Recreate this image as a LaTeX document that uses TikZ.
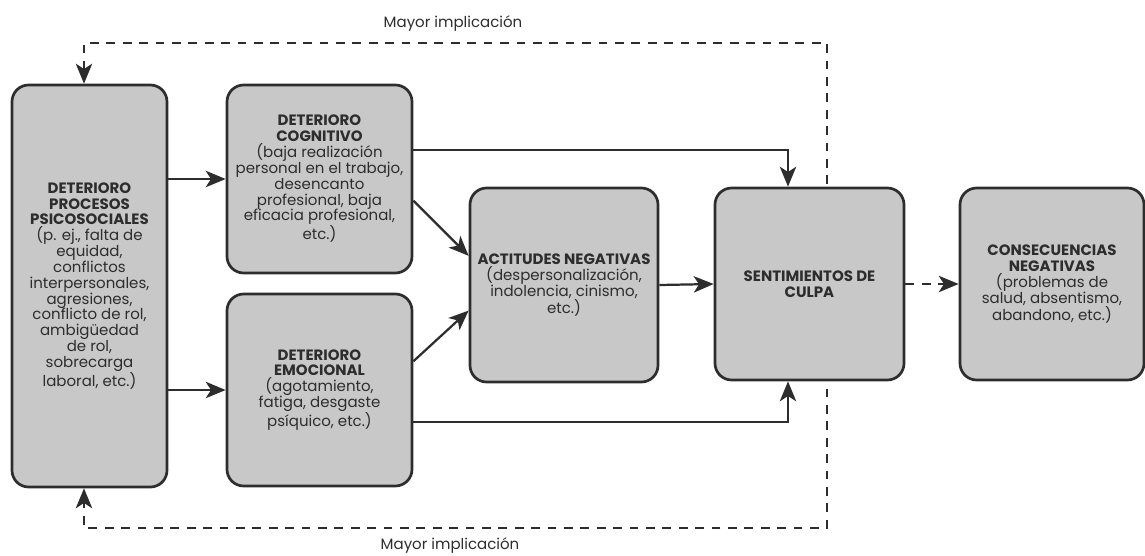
\documentclass[tikz,border=0pt]{standalone}
\usepackage{fontspec}
\setmainfont{Poppins}
\usetikzlibrary{arrows.meta,backgrounds}
\definecolor{cajagris}{RGB}{200,200,200}
\definecolor{tinta}{RGB}{45,45,45}

\begin{document}
\begin{tikzpicture}[x=0.03cm,y=-0.03cm,
    >={Stealth[length=17pt,width=14pt,inset=4.5pt]},
    every node/.style={text=tinta,font=\fontsize{12.8}{13.5}\selectfont},
    caja/.style={draw=tinta,fill=cajagris,line width=2.3pt,rounded corners=0.5cm,align=center,inner sep=2pt},
    flecha/.style={draw=tinta,line width=1.9pt,->},
    discont/.style={draw=tinta,line width=1.9pt,dash pattern=on 7.5pt off 6.5pt}]
  \useasboundingbox (0,0) rectangle (1145,555);

  % cajas
  \node at (89.5,286) [caja,minimum width=4.65cm,minimum height=12.06cm] (psico)
    {\textbf{DETERIORO}\\ \textbf{PROCESOS}\\ \textbf{PSICOSOCIALES}\\ (p. ej., falta de\\ equidad,\\ conflictos\\ interpersonales,\\ agresiones,\\ conflicto de rol,\\ ambigüedad\\ de rol,\\ sobrecarga\\ laboral, etc.)};
  \node at (319.5,179) [caja,minimum width=5.55cm,minimum height=5.64cm] (cognit)
    {\textbf{DETERIORO}\\ \textbf{COGNITIVO}\\ (baja realización\\ personal en el trabajo,\\ desencanto\\ profesional, baja\\ eficacia profesional,\\ etc.)};
  \node at (319.5,390) [caja,minimum width=5.55cm,minimum height=5.76cm] (emocion)
    {\textbf{DETERIORO}\\ \textbf{EMOCIONAL}\\ (agotamiento,\\ fatiga, desgaste\\ psíquico, etc.)};
  \node at (564,285) [caja,minimum width=5.64cm,minimum height=5.82cm] (actitud)
    {\textbf{ACTITUDES NEGATIVAS}\\ (despersonalización,\\ indolencia, cinismo,\\ etc.)};
  \node at (809.5,284) [caja,minimum width=5.67cm,minimum height=5.76cm] (culpa)
    {\textbf{SENTIMIENTOS DE}\\ \textbf{CULPA}};
  \node at (1052,284) [caja,minimum width=5.52cm,minimum height=5.76cm] (consec)
    {\textbf{CONSECUENCIAS}\\ \textbf{NEGATIVAS}\\ (problemas de\\ salud, absentismo,\\ abandono, etc.)};

  \node at (453,24) (implsup) {Mayor implicación};
  \node at (450,546) (implinf) {Mayor implicación};

  % lazo de retroalimentacion
  \coordinate (esqsi) at (84,43);
  \coordinate (esqsd) at (827,43);
  \coordinate (esqid) at (827,528);
  \coordinate (esqii) at (84,528);
  \begin{scope}[on background layer]
    \draw[discont,<->] (esqsi |- psico.north) -- (esqsi) -- (esqsd) -- (esqid) -- (esqii) -- (esqii |- psico.south);
  \end{scope}

  % flechas
  \coordinate (baja) at (788,150);
  \coordinate (sube) at (788,422);
  \draw[flecha] (psico.east |- cognit) -- (cognit.west);
  \draw[flecha] (psico.east |- emocion) -- (emocion.west);
  \draw[flecha] (cognit.east |- baja) -| (baja |- culpa.north);
  \draw[flecha] (emocion.east |- sube) -| (sube |- culpa.south);
  \draw[flecha] (cognit.-13) -- (actitud.163);
  \draw[flecha] (emocion.17) -- (actitud.195);
  \draw[flecha] (actitud.east) -- (culpa.west);
  \draw[discont,->] (culpa.east) -- (consec.west);
\end{tikzpicture}
\end{document}
